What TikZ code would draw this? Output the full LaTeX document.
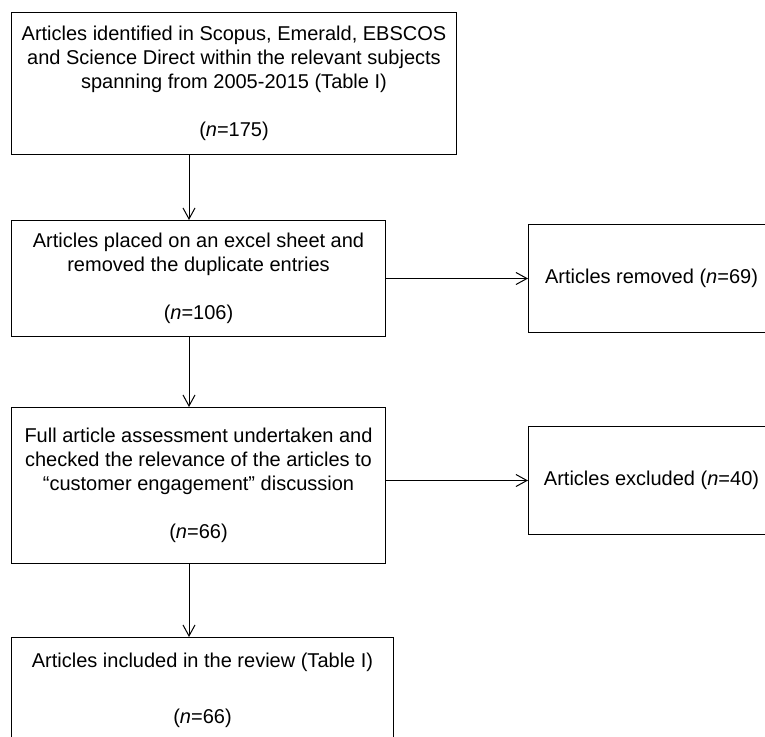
\documentclass[tikz,border=0pt]{standalone}
\usepackage{fontspec}
\setmainfont{Liberation Sans}
\usetikzlibrary{arrows.meta,positioning}

\begin{document}
\begin{tikzpicture}[x=1pt,y=-1pt,>={Straight Barb[length=11pt,width=12pt]},line width=1pt,every node/.style={font=\fontsize{20}{24}\selectfont}]
\tikzstyle{box}=[draw,align=center,anchor=north west,inner sep=0pt,minimum width=374pt]
\useasboundingbox (0,0) rectangle (765,736);
\node[box,minimum width=445pt,minimum height=142pt] (found) at (11,12) {Articles identified in Scopus, Emerald, EBSCOS\\and Science Direct within the relevant subjects\\spanning from 2005-2015 (Table I)\\[24pt](\textit{n}=175)};
\node[box,minimum height=116pt,below=65pt of found.south west,anchor=north west] (dedup) {Articles placed on an excel sheet and\\removed the duplicate entries\\[24pt](\textit{n}=106)};
\node[box,minimum width=246pt,minimum height=108pt,right=142pt of dedup.east,anchor=west] (removed) {Articles removed (\textit{n}=69)};
\node[box,minimum height=156pt,below=70pt of dedup.south west,anchor=north west] (assess) {Full article assessment undertaken and\\checked the relevance of the articles to\\``customer engagement'' discussion\\[24pt](\textit{n}=66)};
\node[box,minimum width=246pt,minimum height=108pt,right=142pt of assess.east,anchor=west,yshift=5pt] (excluded) {Articles excluded (\textit{n}=40)};
\node[box,minimum width=382pt,minimum height=106pt,below=73pt of assess.south west,anchor=north west] (review) {Articles included in the review (Table I)\\[32pt](\textit{n}=66)};
\coordinate (spine) at (189,0);
\draw[->] (found.south -| spine) -- (dedup.north -| spine);
\draw[->] (dedup.south -| spine) -- (assess.north -| spine);
\draw[->] (assess.south -| spine) -- (review.north -| spine);
\draw[->] (dedup.east) -- (dedup.east -| removed.west);
\draw[->] (excluded.west -| assess.east) -- (excluded.west);
\end{tikzpicture}
\end{document}
